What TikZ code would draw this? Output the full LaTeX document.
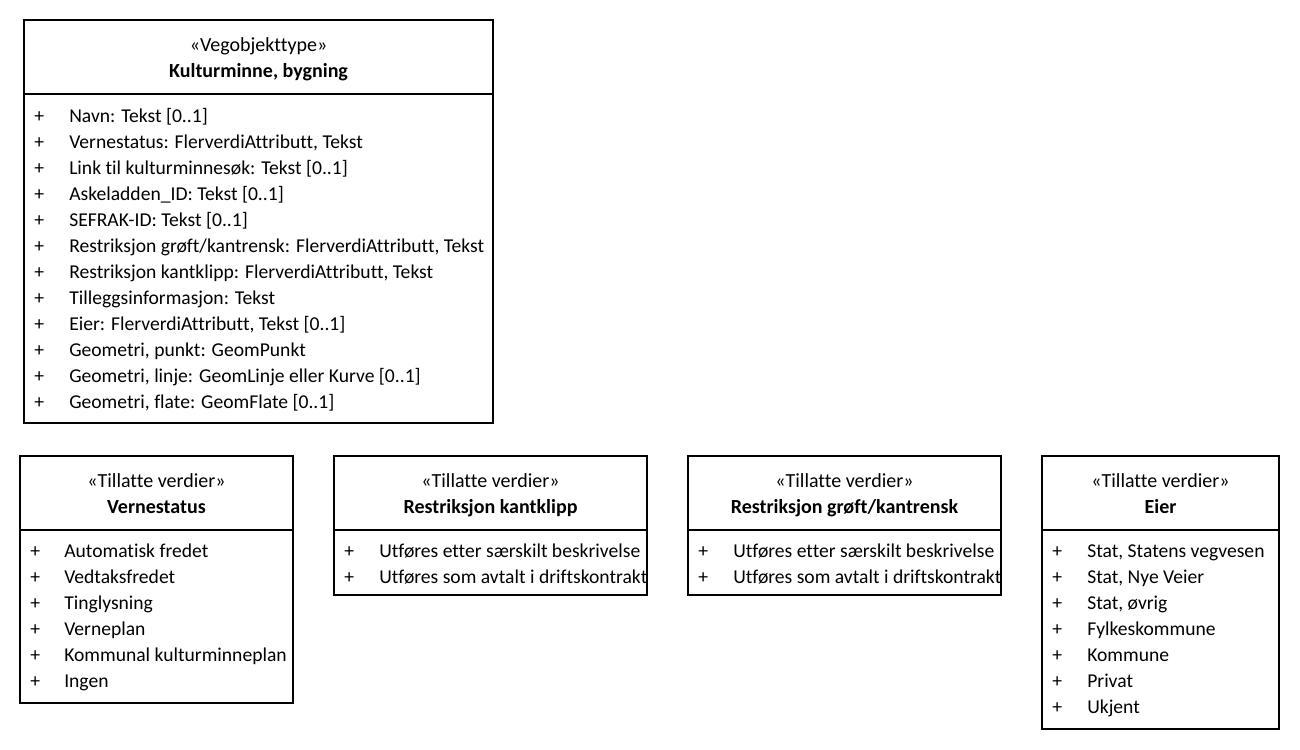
\documentclass[tikz,border=0pt]{standalone}
\usepackage{fontspec}
\setmainfont[Ligatures=CommonOff]{Carlito}
\begin{document}
\begin{tikzpicture}[
		x=0.75pt,
		y=-0.75pt,
		box/.style={draw=black,line width=1.4pt},
		head/.style={anchor=base,inner sep=0pt,font=\fontsize{15}{18}\selectfont},
		classname/.style={head,font=\fontsize{15}{18}\selectfont\bfseries},
		item/.style={anchor=base west,inner sep=0pt,font=\fontsize{14.7}{18}\selectfont},
	]
		\useasboundingbox (0,0) rectangle (1300,750);
		
		% Kulturminne, bygning
		\draw[box] (24,20) rectangle (493,423);
		\draw[box] (24,94) -- (493,94);
		\node[head] (kb-stereo) at (258.5,51) {«Vegobjekttype»};
		\node[classname] (kb-name) at (258.5,77) {Kulturminne, bygning};
		\foreach \n/\t in {0/{Navn: Tekst [0..1]}, 1/{Vernestatus: FlerverdiAttributt, Tekst}, 2/{Link til kulturminnesøk: Tekst [0..1]}, 3/{Askeladden\_ID: Tekst [0..1]}, 4/{SEFRAK-ID: Tekst [0..1]}, 5/{Restriksjon grøft/kantrensk: FlerverdiAttributt, Tekst}, 6/{Restriksjon kantklipp: FlerverdiAttributt, Tekst}, 7/{Tilleggsinformasjon: Tekst}, 8/{Eier: FlerverdiAttributt, Tekst [0..1]}, 9/{Geometri, punkt: GeomPunkt}, 10/{Geometri, linje: GeomLinje eller Kurve [0..1]}, 11/{Geometri, flate: GeomFlate [0..1]}}{
			\node[item] (kb-plus-\n) at (34,{122+\n*26}) {+};
			\node[item] (kb-attr-\n) at (69,{122+\n*26}) {\t};
		}
		
		% Vernestatus
		\draw[box] (20,456) rectangle (293,703);
		\draw[box] (20,530) -- (293,530);
		\node[head] (vs-stereo) at (156.5,487) {«Tillatte verdier»};
		\node[classname] (vs-name) at (156.5,513) {Vernestatus};
		\foreach \n/\t in {0/Automatisk fredet, 1/Vedtaksfredet, 2/Tinglysning, 3/Verneplan, 4/Kommunal kulturminneplan, 5/Ingen}{
			\node[item] (vs-plus-\n) at (30,{557+\n*26}) {+};
			\node[item] (vs-val-\n) at (64,{557+\n*26}) {\t};
		}
		
		% Restriksjon kantklipp
		\draw[box] (334,456) rectangle (647,595);
		\draw[box] (334,530) -- (647,530);
		\node[head] (kk-stereo) at (490.5,487) {«Tillatte verdier»};
		\node[classname] (kk-name) at (490.5,513) {Restriksjon kantklipp};
		\foreach \n/\t in {0/Utføres etter særskilt beskrivelse, 1/Utføres som avtalt i driftskontrakt}{
			\node[item] (kk-plus-\n) at (344,{557+\n*26}) {+};
			\node[item] (kk-val-\n) at (379,{557+\n*26}) {\t};
		}
		
		% Restriksjon grøft/kantrensk
		\draw[box] (688,456) rectangle (1001,595);
		\draw[box] (688,530) -- (1001,530);
		\node[head] (gk-stereo) at (844.5,487) {«Tillatte verdier»};
		\node[classname] (gk-name) at (844.5,513) {Restriksjon grøft/kantrensk};
		\foreach \n/\t in {0/Utføres etter særskilt beskrivelse, 1/Utføres som avtalt i driftskontrakt}{
			\node[item] (gk-plus-\n) at (698,{557+\n*26}) {+};
			\node[item] (gk-val-\n) at (733,{557+\n*26}) {\t};
		}
		
		% Eier
		\draw[box] (1042,456) rectangle (1279,729);
		\draw[box] (1042,530) -- (1279,530);
		\node[head] (ei-stereo) at (1160.5,487) {«Tillatte verdier»};
		\node[classname] (ei-name) at (1160.5,513) {Eier};
		\foreach \n/\t in {0/{Stat, Statens vegvesen}, 1/{Stat, Nye Veier}, 2/{Stat, øvrig}, 3/Fylkeskommune, 4/Kommune, 5/Privat, 6/Ukjent}{
			\node[item] (ei-plus-\n) at (1052,{557+\n*26}) {+};
			\node[item] (ei-val-\n) at (1087,{557+\n*26}) {\t};
		}
	\end{tikzpicture}
\end{document}
